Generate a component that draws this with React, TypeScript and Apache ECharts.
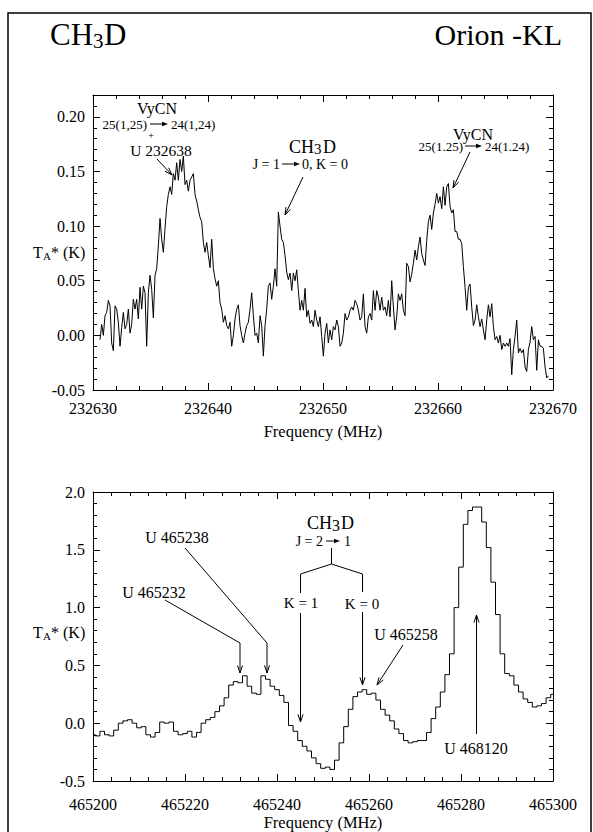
import React, { useEffect, useRef } from "react";
import * as echarts from "echarts";

// ---------- DATA ----------
// Top panel: CH3D J=1-0 region, antenna temperature (K) per channel
const topBandStart = 232630.61; // MHz, first channel
const topBandEnd = 232669.6; // MHz, last channel
const topTa = [
  -0.004, 0.01, 0.0, 0.018, 0.021, 0.032, 0.027, -0.007, -0.014, 0.027,
  0.024, 0.012, -0.01, 0.007, 0.021, 0.006, 0.01, 0.024, 0.002, 0.01,
  0.033, 0.024, 0.033, 0.015, 0.044, 0.024, 0.045, 0.039, -0.01, 0.039,
  0.055, 0.042, 0.016, 0.055, 0.061, 0.082, 0.107, 0.088, 0.076, 0.098,
  0.118, 0.129, 0.136, 0.129, 0.148, 0.142, 0.158, 0.142, 0.161, 0.15,
  0.164, 0.138, 0.142, 0.132, 0.142, 0.145, 0.148, 0.129, 0.123, 0.115,
  0.108, 0.104, 0.085, 0.076, 0.085, 0.073, 0.062, 0.088, 0.061, 0.052,
  0.045, 0.05, 0.03, 0.024, 0.012, 0.018, 0.009, 0.006, 0.012, -0.01,
  0.0, 0.015, 0.024, 0.028, 0.009, 0.0, -0.007, 0.002, 0.009, 0.012,
  0.024, 0.039, 0.018, 0.0, 0.002, -0.007, 0.018, 0.009, -0.019, 0.009,
  0.024, 0.045, 0.048, 0.033, 0.045, 0.061, 0.045, 0.113, 0.1, 0.088,
  0.085, 0.073, 0.058, 0.051, 0.057, 0.041, 0.057, 0.05, 0.06, 0.041,
  0.023, 0.032, 0.023, 0.043, 0.017, 0.023, 0.011, 0.014, 0.008, 0.023,
  0.014, 0.008, 0.017, -0.001, -0.019, 0.002, 0.011, -0.007, 0.005, -0.004,
  0.008, 0.005, 0.014, 0.008, -0.01, -0.007, 0.002, 0.02, 0.014, 0.017,
  0.023, 0.026, 0.023, 0.032, 0.029, 0.023, 0.014, 0.017, 0.038, 0.008,
  0.002, 0.017, 0.02, 0.014, 0.041, 0.023, 0.041, 0.035, 0.023, 0.035,
  0.023, 0.026, 0.018, 0.032, 0.017, 0.05, 0.026, 0.005, 0.017, 0.038,
  0.032, 0.038, 0.023, 0.018, 0.066, 0.063, 0.049, 0.056, 0.066, 0.078,
  0.069, 0.081, 0.09, 0.075, 0.069, 0.064, 0.087, 0.104, 0.11, 0.097,
  0.112, 0.12, 0.13, 0.121, 0.127, 0.116, 0.136, 0.119, 0.136, 0.139,
  0.118, 0.112, 0.115, 0.095, 0.095, 0.088, 0.088, 0.084, 0.063, 0.044,
  0.023, 0.044, 0.047, 0.026, 0.009, 0.014, 0.028, 0.017, 0.008, 0.015,
  0.005, -0.004, 0.014, 0.028, 0.017, 0.029, 0.008, -0.004, -0.001, -0.007,
  0.0, -0.013, -0.007, -0.01, -0.007, -0.01, -0.003, -0.036, -0.013, -0.001,
  0.014, -0.016, -0.012, -0.016, -0.013, -0.029, -0.033, -0.013, -0.006, 0.008,
  -0.004, -0.001, -0.032, -0.004, -0.01, -0.01, -0.012, -0.029, -0.039, -0.037,
];

// Bottom panel: CH3D J=2-1 region, 1 MHz channels from 465200 MHz
const bottomStart = 465200;
const bottomChannel = 1;
const bottomTa = [
  -0.1, -0.11, -0.07, -0.1, -0.11, -0.06, 0.0, 0.02, 0.03, 0.0,
  -0.04, -0.03, -0.1, -0.12, -0.08, 0.01, 0.0, 0.01, -0.07, -0.1,
  -0.09, -0.07, -0.12, -0.08, 0.0, 0.03, 0.05, 0.1, 0.15, 0.22,
  0.33, 0.36, 0.35, 0.41, 0.32, 0.26, 0.25, 0.41, 0.38, 0.32,
  0.29, 0.24, 0.18, -0.02, -0.07, -0.15, -0.2, -0.24, -0.3, -0.35,
  -0.39, -0.38, -0.4, -0.32, -0.17, -0.03, 0.12, 0.23, 0.27, 0.29,
  0.25, 0.26, 0.2, 0.12, 0.07, 0.02, -0.05, -0.09, -0.15, -0.17,
  -0.16, -0.15, -0.15, -0.08, 0.04, 0.14, 0.27, 0.42, 0.6, 1.0,
  1.35, 1.72, 1.84, 1.87, 1.87, 1.74, 1.52, 1.22, 0.94, 0.6,
  0.43, 0.41, 0.33, 0.27, 0.21, 0.18, 0.14, 0.15, 0.17, 0.22,
  0.25,
];

// Axis settings
const topX = { min: 232630, max: 232670, interval: 10 };
const topY = { min: -0.05, max: 0.22, interval: 0.05 };
const botX = { min: 465200, max: 465300, interval: 20 };
const botY = { min: -0.5, max: 2.0, interval: 0.5 };

const FONT = "Liberation Serif, Times New Roman, serif";

function txt(text: string, x: number, y: number, size: number, align = "center") {
  return {
    type: "text",
    x,
    y,
    silent: true,
    style: {
      text,
      fontSize: size,
      fontFamily: FONT,
      fill: "#000",
      align,
      textAlign: align,
      verticalAlign: "middle",
      textVerticalAlign: "middle",
    },
  };
}

function ln(x1: number, y1: number, x2: number, y2: number, w = 1) {
  return {
    type: "line",
    silent: true,
    shape: { x1, y1, x2, y2 },
    style: { stroke: "#000", lineWidth: w },
  };
}

function head(x1: number, y1: number, x2: number, y2: number, len = 8, ang = 0.32) {
  const a = Math.atan2(y2 - y1, x2 - x1);
  return {
    type: "polyline",
    silent: true,
    shape: {
      points: [
        [x2 - len * Math.cos(a - ang), y2 - len * Math.sin(a - ang)],
        [x2, y2],
        [x2 - len * Math.cos(a + ang), y2 - len * Math.sin(a + ang)],
      ],
    },
    style: { stroke: "#000", fill: null, lineWidth: 1 },
  };
}

function arrow(x1: number, y1: number, x2: number, y2: number) {
  return [ln(x1, y1, x2, y2), head(x1, y1, x2, y2)];
}

function smallArrow(x1: number, x2: number, y: number) {
  return [
    ln(x1, y, x2 - 4, y),
    {
      type: "polygon",
      silent: true,
      shape: { points: [[x2, y], [x2 - 6, y - 2.2], [x2 - 6, y + 2.2]] },
      style: { fill: "#000" },
    },
  ];
}

function axisPair(
  gridIndex: number,
  cfg: any,
  kind: "x" | "y",
  decimals: number,
  margin: number,
  name?: string,
  nameGap?: number
) {
  const common = {
    gridIndex,
    type: "value",
    min: cfg.min,
    max: cfg.max,
    interval: cfg.interval,
    axisLine: { show: true, onZero: false, lineStyle: { color: "#000", width: 1 } },
    axisTick: { show: true, inside: true, length: 7, lineStyle: { color: "#000" } },
    minorTick: { show: true, splitNumber: 5, length: 4, lineStyle: { color: "#000" } },
    splitLine: { show: false },
    minorSplitLine: { show: false },
  };
  const main = {
    ...common,
    position: kind === "x" ? "bottom" : "left",
    axisLabel: {
      show: true,
      color: "#000",
      fontSize: 16,
      fontFamily: FONT,
      margin,
      showMaxLabel: kind === "y" && cfg.max !== 2.0 ? false : true,
      formatter: (v: number) => (decimals ? v.toFixed(decimals) : String(v)),
    },
    name: name || "",
    nameLocation: "middle",
    nameGap: nameGap || 30,
    nameTextStyle: { color: "#000", fontSize: 16.5, fontFamily: FONT },
  };
  const mirror = {
    ...common,
    position: kind === "x" ? "top" : "right",
    axisLabel: { show: false },
  };
  return [main, mirror];
}

export default function App() {
  const ref = useRef<HTMLDivElement>(null);

  useEffect(() => {
    if (!ref.current) return;
    const chart = echarts.init(ref.current, undefined, { renderer: "svg" });

    const n = topTa.length;
    const topData = topTa.map((v, i) => [
      topBandStart + (i * (topBandEnd - topBandStart)) / (n - 1),
      v,
    ]);
    const botData = bottomTa.map((v, i) => [bottomStart + i * bottomChannel, v]);

    const graphics: any[] = [
      // outer frame
      {
        type: "rect",
        silent: true,
        shape: { x: 8, y: 13, width: 583, height: 830 },
        style: { stroke: "#000", fill: null, lineWidth: 1.5 },
      },
      // titles
      txt("CH", 50, 34, 31, "left"),
      txt("3", 93, 41, 21, "left"),
      txt("D", 104, 34, 31, "left"),
      txt("Orion -KL", 562, 34, 30, "right"),

      // ----- top panel annotations -----
      txt("T", 33, 252, 16, "left"),
      txt("A", 43, 256, 11, "left"),
      txt("* (K)", 51, 252, 16, "left"),

      txt("VyCN", 157, 108, 16),
      txt("25(1,25)", 147, 124, 13, "right"),
      ...smallArrow(150, 168, 124),
      txt("24(1,24)", 171, 124, 13, "left"),
      txt("+", 151, 135.5, 10),
      txt("U 232638", 161, 150.5, 15.5),
      ...arrow(157, 159, 172, 175),

      txt("CH", 289, 147, 18, "left"),
      txt("3", 314, 149, 15, "left"),
      txt("D", 323, 147, 18, "left"),
      txt("J = 1", 280, 164, 14, "right"),
      ...smallArrow(282, 300, 164),
      txt("0, K = 0", 302, 164, 14, "left"),
      ...arrow(303, 177, 285, 215),

      txt("VyCN", 473, 134, 16),
      txt("25(1.25)", 463, 146, 13, "right"),
      ...smallArrow(465, 482, 146),
      txt("24(1.24)", 485, 146, 13, "left"),
      ...arrow(470, 152, 453, 188),

      // ----- bottom panel annotations -----
      txt("T", 33, 632, 16, "left"),
      txt("A", 43, 636, 11, "left"),
      txt("* (K)", 51, 632, 16, "left"),

      txt("U 465238", 177, 537, 16),
      ln(185, 548, 267, 643),
      ...arrow(267, 643, 267, 673),
      txt("U 465232", 154, 592, 16),
      ln(165, 600, 240, 643),
      ...arrow(240, 643, 240, 673),

      txt("CH", 307, 523, 18, "left"),
      txt("3", 332, 525, 16, "left"),
      txt("D", 341, 523, 18, "left"),
      txt("J = 2", 323, 541, 14, "right"),
      ...smallArrow(326, 340, 541),
      txt("1", 344, 541, 14, "left"),
      ln(331.5, 548, 331.5, 564),
      ln(331.5, 564, 300.5, 574),
      ln(331.5, 564, 362.5, 574),
      ln(300.5, 574, 300.5, 593),
      ln(362.5, 574, 362.5, 592),
      txt("K = 1", 301, 603, 15),
      txt("K = 0", 362, 604, 15),
      ...arrow(300.5, 613, 300.5, 722),
      ...arrow(362.5, 612, 362.5, 685),
      txt("U 465258", 406, 634, 16),
      ...arrow(403, 645, 377, 685),
      txt("U 468120", 476, 748, 16),
      ...arrow(476.5, 734, 476.5, 615),
    ];

    const [tx, txm] = axisPair(0, topX, "x", 0, 10, "Frequency (MHz)", 33);
    const [ty, tym] = axisPair(0, topY, "y", 2, 8);
    const [bx, bxm] = axisPair(1, botX, "x", 0, 15, "Frequency (MHz)", 33);
    const [by, bym] = axisPair(1, botY, "y", 1, 8);

    chart.setOption({
      animation: false,
      backgroundColor: "#fff",
      textStyle: { fontFamily: FONT, color: "#000" },
      grid: [
        {
          left: 93,
          top: 95,
          width: 460,
          height: 295,
          containLabel: false,
          outerBoundsMode: "none",
        },
        {
          left: 93,
          top: 492,
          width: 460,
          height: 289,
          containLabel: false,
          outerBoundsMode: "none",
        },
      ],
      xAxis: [tx, txm, bx, bxm],
      yAxis: [ty, tym, by, bym],
      series: [
        {
          type: "line",
          xAxisIndex: 0,
          yAxisIndex: 0,
          data: topData,
          showSymbol: false,
          symbol: "none",
          lineStyle: { color: "#000", width: 1 },
          silent: true,
        },
        {
          type: "line",
          xAxisIndex: 2,
          yAxisIndex: 2,
          data: botData,
          step: "middle",
          showSymbol: false,
          symbol: "none",
          lineStyle: { color: "#000", width: 1 },
          silent: true,
        },
      ],
      graphic: { elements: graphics },
    });

    return () => chart.dispose();
  }, []);

  return (
    <div
      ref={ref}
      style={{ position: "absolute", left: 0, top: 0, width: 593, height: 832 }}
    />
  );
}
